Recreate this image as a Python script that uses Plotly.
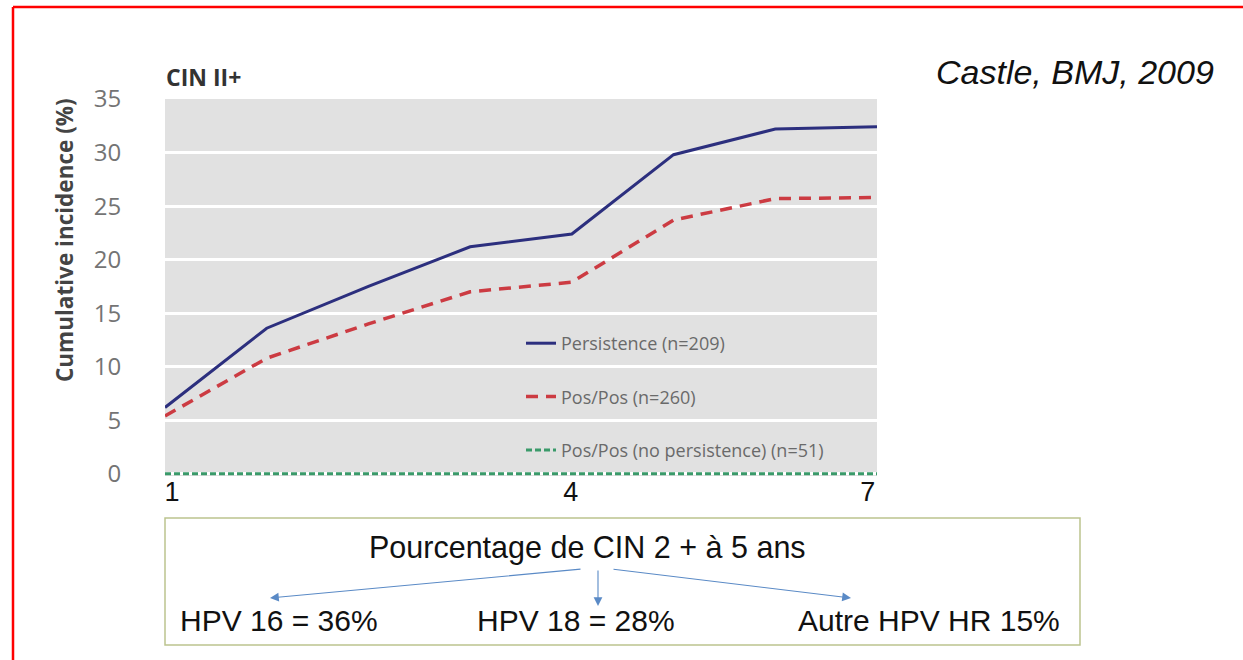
import plotly.graph_objects as go

# Follow-up time points (equally spaced visits) and cumulative incidence of CIN II+ (%)
time_points = [0, 1, 2, 3, 4, 5, 6, 7]
persistence = [6.2, 13.6, 17.5, 21.2, 22.4, 29.8, 32.2, 32.4]
pos_pos = [5.4, 10.8, 14.0, 17.0, 17.9, 23.7, 25.7, 25.8]
pos_pos_no_persistence = [0, 0, 0, 0, 0, 0, 0, 0]

series_names = ["Persistence (n=209)", "Pos/Pos (n=260)", "Pos/Pos (no persistence) (n=51)"]

# x-axis labels as printed on the slide
x_tick_positions = [0.07, 3.99, 6.91]
x_tick_labels = ["1", "4", "7"]
y_ticks = [0, 5, 10, 15, 20, 25, 30, 35]

# HPV type breakdown shown under the chart
box_title = "Pourcentage de CIN 2 + à 5 ans"
hpv_labels = ["HPV 16 = 36%", "HPV 18 = 28%", "Autre HPV HR 15%"]

W, H = 1243, 660
PL, PR, PT, PB = 165, 877, 99, 476


def px(x):
    return (x - PL) / (PR - PL)


def py(y):
    return (PB - y) / (PB - PT)


fig = go.Figure()
fig.add_trace(go.Scatter(
    x=time_points, y=persistence, name=series_names[0], mode="lines",
    line=dict(color="#2c2f7e", width=3), legendgroup="a"))
fig.add_trace(go.Scatter(
    x=time_points, y=pos_pos, name=series_names[1], mode="lines",
    line=dict(color="#cc3b42", width=3.5, dash="12px,8px"), legendgroup="b"))
fig.add_trace(go.Scatter(
    x=time_points, y=pos_pos_no_persistence, name=series_names[2], mode="lines",
    line=dict(color="#3a9a6a", width=3, dash="6px,3px"), legendgroup="c"))


def note(text, x, y, size, family="Liberation Sans", color="#111111", **kw):
    d = dict(text=text, x=px(x), y=py(y), xref="paper", yref="paper",
             xanchor="center", yanchor="middle", showarrow=False,
             font=dict(family=family, size=size, color=color))
    d.update(kw)
    return d


annotations = [
    note("<b>Cumulative incidence (%)</b>", 64, 240, 22.5, family="Open Sans",
         color="#444444", textangle=-90),
    note("<b>CIN II+</b>", 164, 77, 23, family="Open Sans", color="#333333",
         xanchor="left"),
    note("<i>Castle, BMJ, 2009</i>", 1075, 72, 34),
    note(box_title, 587, 547, 30.5),
]
for label, cx in zip(hpv_labels, [279, 576, 929]):
    annotations.append(note(label, cx, 620, 30))

# arrows from the box title to each HPV group (tail -> head, in pixels)
for (tx, ty), (hx, hy) in [((582, 569), (270, 598)), ((598, 569), (598, 606)),
                            ((612, 569), (851, 598))]:
    annotations.append(dict(text="", x=px(hx), y=py(hy), ax=tx - hx, ay=ty - hy,
                            xref="paper", yref="paper", axref="pixel", ayref="pixel",
                            showarrow=True, arrowhead=2, arrowsize=1.6, arrowwidth=1.1,
                            arrowcolor="#5a8ac6"))

shapes = [
    # box around the HPV breakdown
    dict(type="rect", xref="paper", yref="paper", x0=px(165), x1=px(1080),
         y0=py(645), y1=py(518), line=dict(color="#bcc48e", width=1.5)),
    # red slide frame
    dict(type="line", xref="paper", yref="paper", x0=px(13), x1=px(1260),
         y0=py(7), y1=py(7), line=dict(color="#ff0000", width=2.5)),
    dict(type="line", xref="paper", yref="paper", x0=px(13), x1=px(13),
         y0=py(7), y1=py(680), line=dict(color="#ff0000", width=2.5)),
]

fig.update_layout(
    width=W, height=H,
    margin=dict(l=PL, r=W - PR, t=PT, b=H - PB),
    paper_bgcolor="white", plot_bgcolor="#e1e1e1",
    showlegend=True,
    legend=dict(x=px(521), y=py(325), xanchor="left", yanchor="top",
                bgcolor="rgba(0,0,0,0)", tracegroupgap=27,
                font=dict(family="Open Sans", size=18, color="#6a6a6a")),
    xaxis=dict(range=[0, 7], tickvals=x_tick_positions, ticktext=x_tick_labels,
               showgrid=False, zeroline=False, showline=False, ticks="",
               ticklabelstandoff=-3,
               tickfont=dict(family="Liberation Sans", size=27, color="#111111")),
    yaxis=dict(range=[-0.2, 35], tickvals=y_ticks, showgrid=True, gridcolor="white",
               gridwidth=2.5, zeroline=False, showline=False,
               ticks="outside", ticklen=38, tickcolor="rgba(0,0,0,0)",
               tickfont=dict(family="Open Sans", size=24, color="#747474")),
    annotations=annotations,
    shapes=shapes,
)

fig.write_html("out.html")
